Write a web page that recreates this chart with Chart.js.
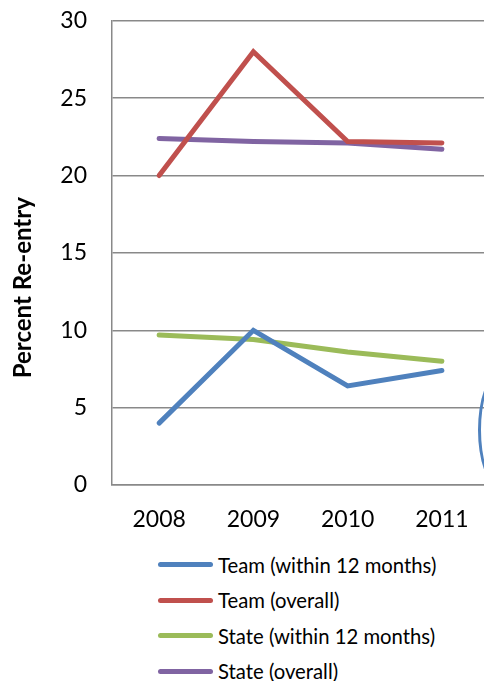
<!DOCTYPE html>
<html>
<head>
<meta charset="utf-8">
<script src="https://cdn.jsdelivr.net/npm/chart.js@4.4.0/dist/chart.umd.min.js"></script>
<style>
  html, body { margin: 0; padding: 0; background: #fff; overflow: hidden; width: 484px; height: 681px; }
  #wrap { position: relative; width: 484px; height: 681px; overflow: hidden; }
  #box { position: absolute; left: 0; top: -18px; width: 500px; height: 563px; }
  #legend { position: absolute; left: 158px; top: 547px; font-family: Lato, sans-serif; font-size: 20.3px; color: #000; }
  .item { display: flex; align-items: center; height: 35.5px; }
  .swatch { width: 55px; height: 5px; border-radius: 3px; margin-right: 5px; }
  #arc { position: absolute; left: 478px; top: 375px; width: 40px; height: 110px; border: 3px solid #4F81BD; border-radius: 50%; box-sizing: border-box; }
</style>
</head>
<body>
<div id="wrap">
  <div id="box"><canvas id="c"></canvas></div>
  <div id="legend"></div>
  <div id="arc"></div>
</div>
<script>
const categories = ['2008', '2009', '2010', '2011'];
const teamWithin12 = [4.0, 10.0, 6.4, 7.4];
const teamOverall = [20.0, 28.0, 22.2, 22.1];
const stateWithin12 = [9.7, 9.4, 8.6, 8.0];
const stateOverall = [22.4, 22.2, 22.1, 21.7];
const seriesLabels = ['Team (within 12 months)', 'Team (overall)', 'State (within 12 months)', 'State (overall)'];
const yTicks = [0, 5, 10, 15, 20, 25, 30];
const yAxisTitle = 'Percent Re-entry';
const colors = ['#4F81BD', '#C0504D', '#9BBB59', '#8064A2'];

const seriesData = [teamWithin12, teamOverall, stateWithin12, stateOverall];
const datasets = seriesData.map((d, i) => ({
  label: seriesLabels[i],
  data: d,
  borderColor: colors[i],
  backgroundColor: colors[i],
  borderWidth: 5,
  borderCapStyle: 'round',
  borderJoinStyle: 'miter',
  pointRadius: 0,
  pointHoverRadius: 0,
  tension: 0,
  fill: false,
  order: i === 3 ? 2 : 1
}));

const yTitlePlugin = {
  id: 'yTitle',
  afterDraw(chart) {
    const { ctx, chartArea } = chart;
    const cy = chartArea.bottom - (chartArea.bottom - chartArea.top) * 0.425;
    ctx.save();
    ctx.translate(23, cy);
    ctx.rotate(-Math.PI / 2);
    ctx.font = 'bold 24px Lato';
    ctx.fillStyle = '#000';
    ctx.textAlign = 'center';
    ctx.textBaseline = 'middle';
    ctx.fillText(yAxisTitle, 0, 0);
    ctx.restore();
  }
};

const chart = new Chart(document.getElementById('c'), {
  type: 'line',
  data: { labels: categories, datasets },
  plugins: [yTitlePlugin],
  options: {
    responsive: true,
    maintainAspectRatio: false,
    animation: false,
    events: [],
    layout: { padding: { top: 2, right: 11, bottom: 0, left: 0 } },
    plugins: { legend: { display: false }, tooltip: { enabled: false } },
    scales: {
      x: {
        type: 'category',
        offset: true,
        grid: { display: false, drawTicks: false },
        border: { display: true, color: '#898989', width: 1.5 },
        ticks: { color: '#000', font: { family: 'Lato', size: 23 }, padding: 21 },
        afterFit(scale) { scale.height = 60; }
      },
      y: {
        min: 0,
        max: 30,
        afterBuildTicks(scale) { scale.ticks = yTicks.map(v => ({ value: v })); },
        grid: { color: '#898989', lineWidth: 1.5, drawTicks: false },
        border: { display: true, color: '#898989', width: 1.5 },
        ticks: { color: '#000', font: { family: 'Lato', size: 23 }, padding: 25 },
        afterFit(scale) { scale.width = 112; }
      }
    }
  }
});

const legend = document.getElementById('legend');
chart.data.datasets.forEach(ds => {
  const row = document.createElement('div');
  row.className = 'item';
  const sw = document.createElement('span');
  sw.className = 'swatch';
  sw.style.background = ds.borderColor;
  const tx = document.createElement('span');
  tx.textContent = ds.label;
  row.appendChild(sw);
  row.appendChild(tx);
  legend.appendChild(row);
});
</script>
</body>
</html>
